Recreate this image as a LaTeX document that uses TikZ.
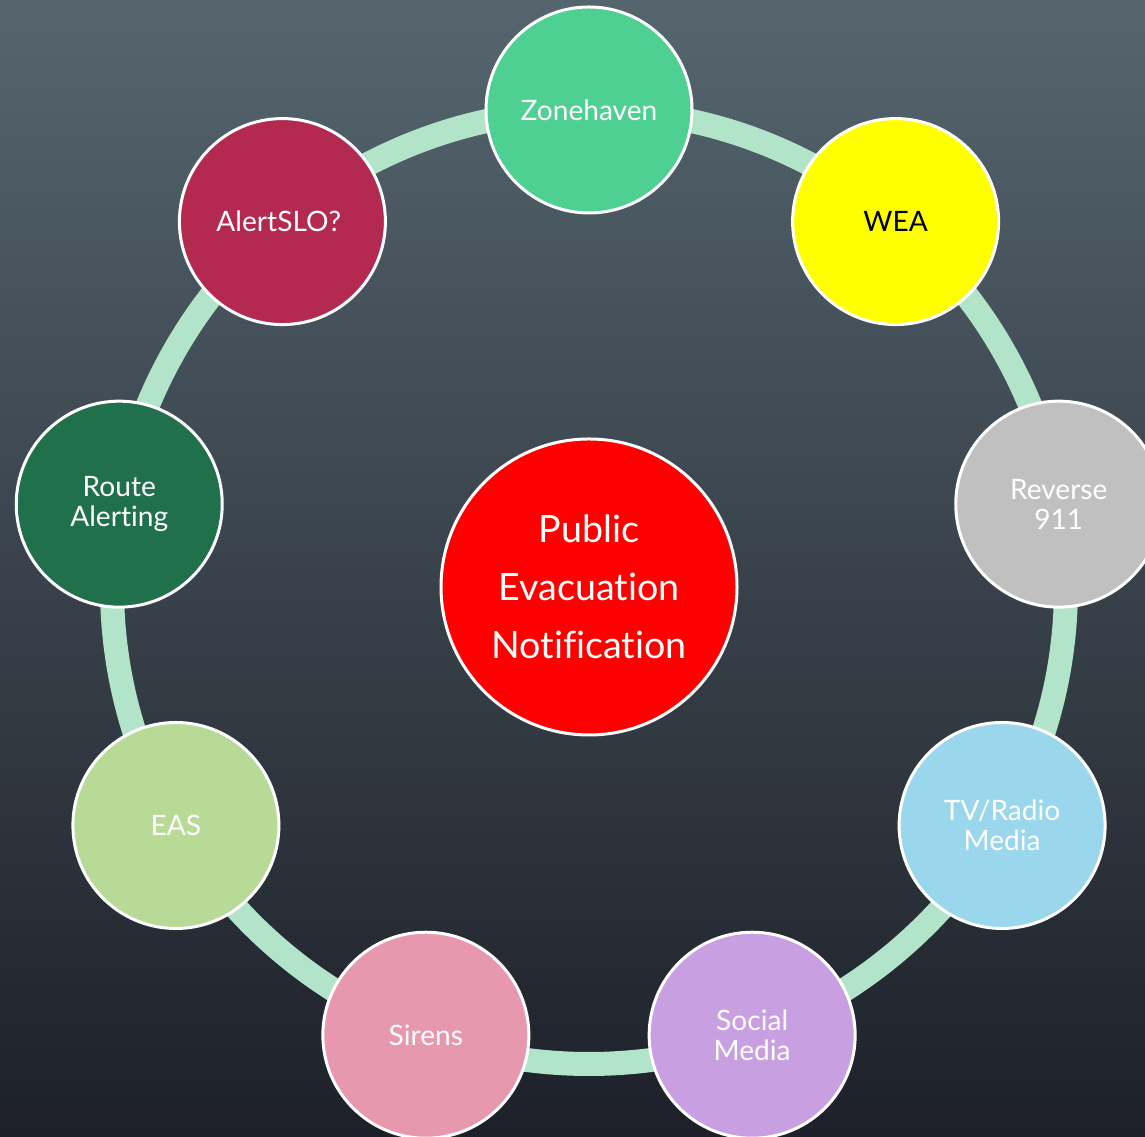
\documentclass[tikz,border=0pt]{standalone}
\usepackage{fontspec}
\setsansfont{Lato}[Ligatures={NoCommon,NoContextual}]
\usepackage{tikz}
\definecolor{bgtop}{HTML}{55656E}
\definecolor{bgmid}{HTML}{434F58}
\definecolor{bgbot}{HTML}{1D2028}
\definecolor{ringgreen}{HTML}{B1E4C8}
\definecolor{zonegreen}{HTML}{4ED093}
\definecolor{weayellow}{HTML}{FFFF00}
\definecolor{revgray}{HTML}{C0C0C0}
\definecolor{tvblue}{HTML}{9AD7EC}
\definecolor{sociallilac}{HTML}{C8A0E2}
\definecolor{sirenpink}{HTML}{E798AE}
\definecolor{easgreen}{HTML}{B7DA96}
\definecolor{routegreen}{HTML}{20704B}
\definecolor{alertred}{HTML}{B3294F}

\begin{document}
\begin{tikzpicture}[x=0.1mm, y=0.1mm, font=\sffamily\fontsize{8}{8.6}\selectfont,
	bubble/.style={circle, draw=white, line width=0.3mm, minimum size=20.6mm,
		inner sep=0pt, align=center},
	ring/.style={draw=ringgreen, line width=2.4mm}]
	%background
	\shade[top color=bgtop, middle color=bgmid, bottom color=bgbot]
		(0,0) rectangle (1145,1137);
	\useasboundingbox (0,0) rectangle (1145,1137);
	%ring
	\coordinate (ctr) at (589,550);
	\draw[ring] (ctr) circle (477);
	%center
	\node[bubble, fill=red, text=white, minimum size=29.6mm,
		font=\sffamily\fontsize{10.7}{16.5}\selectfont] (notification) at (ctr)
		{Public\\Evacuation\\Notification};
	%channels
	\foreach \ang/\nm/\col/\tcol/\txt in {
		90/zonehaven/zonegreen/white/Zonehaven,
		50/wea/weayellow/black/WEA,
		10/reverse/revgray/white/{Reverse\\911},
		-30/tvradio/tvblue/white/{TV/Radio\\Media},
		-70/social/sociallilac/white/{Social\\Media},
		-110/sirens/sirenpink/white/Sirens,
		-150/eas/easgreen/white/EAS,
		170/route/routegreen/white/{Route\\Alerting},
		130/alertslo/alertred/white/AlertSLO?
	}
	\node[bubble, fill=\col, text=\tcol] (\nm) at ([shift={(\ang:477)}]ctr) {\txt};
\end{tikzpicture}
\end{document}
